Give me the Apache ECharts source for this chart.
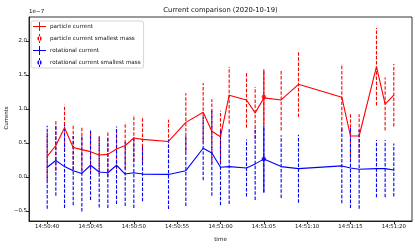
<!DOCTYPE html>
<html>
<head>
<meta charset="utf-8">
<script src="https://cdn.jsdelivr.net/npm/echarts@6/dist/echarts.min.js"></script>
<style>html,body{margin:0;padding:0;background:#fff}#c{width:415px;height:249px}</style>
</head>
<body>
<div id="c"></div>
<script>
// ---- data (values in units of 1e-7) ----
const times = ['14:50:40','14:50:41','14:50:42','14:50:43','14:50:44','14:50:45','14:50:46','14:50:47','14:50:48','14:50:49','14:50:50','14:50:51','14:50:54','14:50:56','14:50:58','14:50:59','14:51:00','14:51:01','14:51:03','14:51:04','14:51:05','14:51:07','14:51:09','14:51:14','14:51:15','14:51:16','14:51:18','14:51:19','14:51:20'];
const particleCurrent = [0.30,0.46,0.72,0.43,0.40,0.37,0.32,0.33,0.41,0.46,0.57,0.55,0.52,0.80,0.95,0.67,0.59,1.20,1.13,0.94,1.16,1.13,1.36,1.17,0.60,0.60,1.62,1.07,1.20];
const particleErr = [0.35,0.37,0.34,0.33,0.33,0.28,0.28,0.33,0.30,0.34,0.34,0.34,0.32,0.43,0.43,0.47,0.38,0.42,0.41,0.38,0.41,0.45,0.48,0.49,0.33,0.32,0.57,0.39,0.46];
const rotationalCurrent = [0.14,0.24,0.15,0.09,0.05,0.17,0.07,0.06,0.17,0.04,0.06,0.04,0.035,0.09,0.42,0.35,0.14,0.15,0.13,0.19,0.26,0.15,0.12,0.16,0.13,0.11,0.12,0.12,0.10];
const rotationalErr = [0.61,0.52,0.61,0.51,0.56,0.51,0.52,0.52,0.57,0.47,0.52,0.40,0.51,0.52,0.47,0.63,0.56,0.55,0.42,0.53,0.49,0.46,0.50,0.55,0.59,0.58,0.42,0.42,0.39];
const smallestTimes = ['14:51:05'];
const particleSmallest = [1.175];
const particleSmallestErr = [0.405];
const rotationalSmallest = [0.26];
const rotationalSmallestErr = [0.49];
const xTickLabels = ['14:50:40','14:50:45','14:50:50','14:50:55','14:51:00','14:51:05','14:51:10','14:51:15','14:51:20'];
const yTickValues = [-0.5,0.0,0.5,1.0,1.5,2.0];

// ---- helpers ----
const BASE = 14*3600 + 50*60;
const toSec = t => { const p = t.split(':').map(Number); return p[0]*3600 + p[1]*60 + p[2] - BASE; };
const xTickValues = xTickLabels.map(toSec);
const FONT = 'DejaVu Sans';
const RED = '#ff0000', BLUE = '#0000ff';

function errSeries(name, ts, vals, errs, color, dashed) {
  return {
    type: 'custom', name: name, silent: true,
    data: ts.map((t, i) => [toSec(t), vals[i] - errs[i], vals[i] + errs[i]]),
    renderItem: function (params, api) {
      const x = api.value(0);
      const a = api.coord([x, api.value(1)]);
      const b = api.coord([x, api.value(2)]);
      return { type: 'line', shape: { x1: a[0], y1: a[1], x2: b[0], y2: b[1] },
        style: { stroke: color, lineWidth: 1.1, lineDash: dashed ? [3.5, 1.6] : null } };
    }
  };
}
function lineSeries(name, ts, vals, color) {
  return { type: 'line', name: name, data: ts.map((t, i) => [toSec(t), vals[i]]),
    showSymbol: false, symbol: 'none', lineStyle: { color: color, width: 1.1 }, itemStyle: { color: color } };
}
function dotSeries(name, ts, vals, color) {
  return { type: 'scatter', name: name, data: ts.map((t, i) => [toSec(t), vals[i]]),
    symbolSize: 4.5, itemStyle: { color: color } };
}

const iconCross = 'path://M0,4H13V5H0Z M6,0H7V9H6Z';
const iconDot = 'path://M6,0H7V9H6Z M4.3,4.5A2.2,2.2 0 1 0 8.7,4.5A2.2,2.2 0 1 0 4.3,4.5Z';

const chart = echarts.init(document.getElementById('c'), null, { renderer: 'canvas' });
chart.setOption({
  animation: false,
  backgroundColor: '#fff',
  textStyle: { fontFamily: FONT },
  grid: { left: 29, right: 3, top: 17, bottom: 28, show: true, borderColor: '#000', borderWidth: 0.8, backgroundColor: 'transparent' },
  xAxis: {
    type: 'value', min: 37.9, max: 82.1,
    axisLine: { show: true, onZero: false, lineStyle: { color: '#000', width: 0.8 } },
    axisTick: { show: true, length: 3, lineStyle: { color: '#000', width: 0.8 }, customValues: xTickValues },
    axisLabel: { customValues: xTickValues, fontSize: 5.4, color: '#111', margin: 3, fontFamily: FONT,
      formatter: v => { const i = xTickValues.indexOf(Math.round(v)); return i >= 0 ? xTickLabels[i] : ''; } },
    splitLine: { show: false }
  },
  yAxis: {
    type: 'value', min: -0.65, max: 2.35,
    axisLine: { show: true, onZero: false, lineStyle: { color: '#000', width: 0.8 } },
    axisTick: { show: true, length: 3, lineStyle: { color: '#000', width: 0.8 }, customValues: yTickValues },
    axisLabel: { customValues: yTickValues, fontSize: 5.4, color: '#111', margin: 2, fontFamily: FONT,
      formatter: v => (v < 0 ? '\u2212' + Math.abs(v).toFixed(1) : v.toFixed(1)) },
    splitLine: { show: false }
  },
  legend: {
    left: 31, top: 21, orient: 'vertical',
    padding: [1, 3, 1, 2], itemGap: 3, itemWidth: 13, itemHeight: 9,
    backgroundColor: '#fff', borderColor: '#cccccc', borderWidth: 0.8, borderRadius: 2,
    textStyle: { fontSize: 5.6, color: '#111', fontFamily: FONT, padding: [0, 0, 0, -1] },
    data: [
      { name: 'particle current', icon: iconCross, itemStyle: { color: RED } },
      { name: 'particle current smallest mass', icon: iconDot, itemStyle: { color: RED } },
      { name: 'rotational current', icon: iconCross, itemStyle: { color: BLUE } },
      { name: 'rotational current smallest mass', icon: iconDot, itemStyle: { color: BLUE } }
    ]
  },
  graphic: [
    { type: 'text', x: 220.5, y: 10, style: { text: 'Current comparison (2020-10-19)', fontSize: 6.8, fontFamily: FONT, fill: '#111', align: 'center', verticalAlign: 'middle' } },
    { type: 'text', x: 29, y: 12, style: { text: '1e\u22127', fontSize: 5.6, fontFamily: FONT, fill: '#111', align: 'left', verticalAlign: 'middle' } },
    { type: 'text', x: 7, y: 118, rotation: Math.PI / 2, style: { text: 'Currents', fontSize: 5.4, fontFamily: FONT, fill: '#111', align: 'center', verticalAlign: 'middle' } },
    { type: 'text', x: 220.5, y: 240, style: { text: 'time', fontSize: 5.6, fontFamily: FONT, fill: '#111', align: 'center', verticalAlign: 'middle' } }
  ],
  series: [
    errSeries('particle current', times, particleCurrent, particleErr, RED, true),
    lineSeries('particle current', times, particleCurrent, RED),
    errSeries('particle current smallest mass', smallestTimes, particleSmallest, particleSmallestErr, RED, false),
    dotSeries('particle current smallest mass', smallestTimes, particleSmallest, RED),
    errSeries('rotational current', times, rotationalCurrent, rotationalErr, BLUE, true),
    lineSeries('rotational current', times, rotationalCurrent, BLUE),
    errSeries('rotational current smallest mass', smallestTimes, rotationalSmallest, rotationalSmallestErr, BLUE, false),
    dotSeries('rotational current smallest mass', smallestTimes, rotationalSmallest, BLUE)
  ]
});
</script>
</body>
</html>
